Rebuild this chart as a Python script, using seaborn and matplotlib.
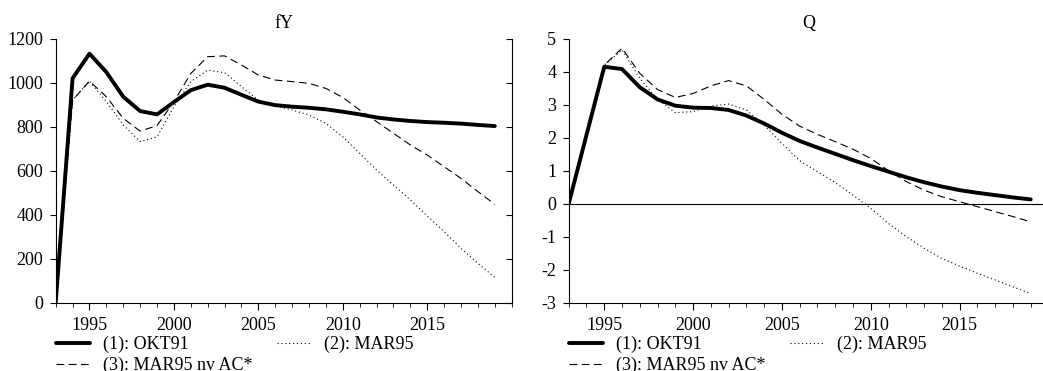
import numpy as np
import pandas as pd
import matplotlib
matplotlib.use("Agg")
import matplotlib.pyplot as plt
import seaborn as sns
from matplotlib.ticker import MultipleLocator

years = list(range(1993, 2020))

fy_okt91 = [0, 1020, 1132, 1048, 936, 871, 856, 912, 966, 991, 977, 945, 914,
            898, 891, 886, 879, 868, 856, 842, 833, 826, 821, 818, 814, 808, 803]
fy_mar95 = [0, 921, 1007, 914, 808, 732, 754, 891, 1005, 1057, 1045, 982, 921,
            894, 876, 853, 815, 754, 679, 603, 535, 467, 394, 323, 247, 179, 115]
fy_mar95nv = [0, 921, 1007, 936, 838, 780, 805, 914, 1042, 1118, 1122, 1080, 1035,
              1012, 1005, 997, 974, 933, 876, 823, 770, 717, 671, 618, 565, 505, 447]

q_okt91 = [0, 2.08, 4.15, 4.08, 3.53, 3.16, 2.97, 2.91, 2.90, 2.84, 2.67, 2.43, 2.15,
           1.90, 1.70, 1.51, 1.32, 1.14, 0.97, 0.80, 0.65, 0.52, 0.41, 0.33, 0.26, 0.19, 0.13]
q_mar95 = [0, 2.10, 4.20, 4.66, 3.80, 3.16, 2.76, 2.79, 2.96, 3.02, 2.84, 2.38, 1.83,
           1.30, 0.97, 0.64, 0.26, -0.14, -0.60, -1.00, -1.35, -1.66, -1.89, -2.11, -2.31, -2.52, -2.72]
q_mar95nv = [0, 2.15, 4.20, 4.71, 3.95, 3.46, 3.22, 3.34, 3.57, 3.73, 3.57, 3.16, 2.71,
             2.35, 2.10, 1.88, 1.65, 1.37, 1.00, 0.67, 0.41, 0.21, 0.06, -0.09, -0.24, -0.39, -0.55]

labels = ["(1): OKT91", "(2): MAR95", "(3): MAR95 nv AC*"]
titles = ["fY", "Q"]

sns.set_theme(style="ticks")
plt.rcParams["font.family"] = ["Liberation Serif", "DejaVu Serif"]
plt.rcParams["font.size"] = 13
plt.rcParams["xtick.labelsize"] = 13
plt.rcParams["ytick.labelsize"] = 13
plt.rcParams["axes.unicode_minus"] = False
plt.rcParams["axes.edgecolor"] = "black"
plt.rcParams["axes.linewidth"] = 0.8
plt.rcParams["xtick.color"] = "black"
plt.rcParams["ytick.color"] = "black"
plt.rcParams["text.color"] = "black"

W, H = 1043, 371
fig = plt.figure(figsize=(W / 100, H / 100), dpi=100)

def frac_box(x0, x1, ytop, ybot):
    return [x0 / W, 1 - ybot / H, (x1 - x0) / W, (ybot - ytop) / H]

ax1 = fig.add_axes(frac_box(55.7, 511.7, 38.7, 302.7))
ax2 = fig.add_axes(frac_box(568.7, 1048.5, 38.7, 302.7))

styles = [
    dict(linewidth=2.8, linestyle="-"),
    dict(linewidth=0.8, linestyle=(0, (1, 2.5))),
    dict(linewidth=0.8, linestyle=(0, (7, 4))),
]

panels = [
    (ax1, [fy_okt91, fy_mar95, fy_mar95nv], (0, 1200), 200),
    (ax2, [q_okt91, q_mar95, q_mar95nv], (-3, 5), 1),
]

for (ax, series, ylim, ystep), title in zip(panels, titles):
    for vals, lab, st in zip(series, labels, styles):
        df = pd.DataFrame({"year": years, "value": vals})
        sns.lineplot(data=df, x="year", y="value", ax=ax, color="black",
                     label=lab, **st)
    ax.set_xlim(1993, 2020)
    ax.set_ylim(*ylim)
    ax.yaxis.set_major_locator(MultipleLocator(ystep))
    ax.xaxis.set_minor_locator(MultipleLocator(1))
    ax.set_xticks([1995, 2000, 2005, 2010, 2015])
    ax.set_xlabel("")
    ax.set_ylabel("")
    ax.set_title(title, fontsize=13, pad=8)
    ax.spines["top"].set_visible(False)
    ax.spines["right"].set_visible(True)
    ax.tick_params(axis="y", which="both", left=True, right=False,
                   labelleft=True, labelright=False, length=4, width=0.8,
                   pad=5, direction="out", labelsize=13)
    ax.tick_params(axis="x", which="major", length=5, width=0.8, pad=5,
                   direction="out", labelsize=13)
    ax.tick_params(axis="x", which="minor", length=3, width=0.6, direction="out")
    handles, labs = ax.get_legend_handles_labels()
    order = [0, 2, 1]
    ax.legend([handles[i] for i in order], [labs[i] for i in order],
              loc="upper left", bbox_to_anchor=(0.0, -0.125), ncol=2,
              frameon=False, borderaxespad=0, borderpad=0,
              handlelength=1.9, handletextpad=0.7, columnspacing=1.4,
              labelspacing=0.2, fontsize=13)

# inward ticks on the right spine of the first panel
twin = ax1.twinx()
twin.set_ylim(ax1.get_ylim())
twin.yaxis.set_major_locator(MultipleLocator(200))
twin.tick_params(axis="y", direction="in", length=4, width=0.8, labelright=False)
for s in twin.spines.values():
    s.set_visible(False)

ax2.axhline(0, color="black", linewidth=0.8)

fig.savefig("out.png", dpi=100)
